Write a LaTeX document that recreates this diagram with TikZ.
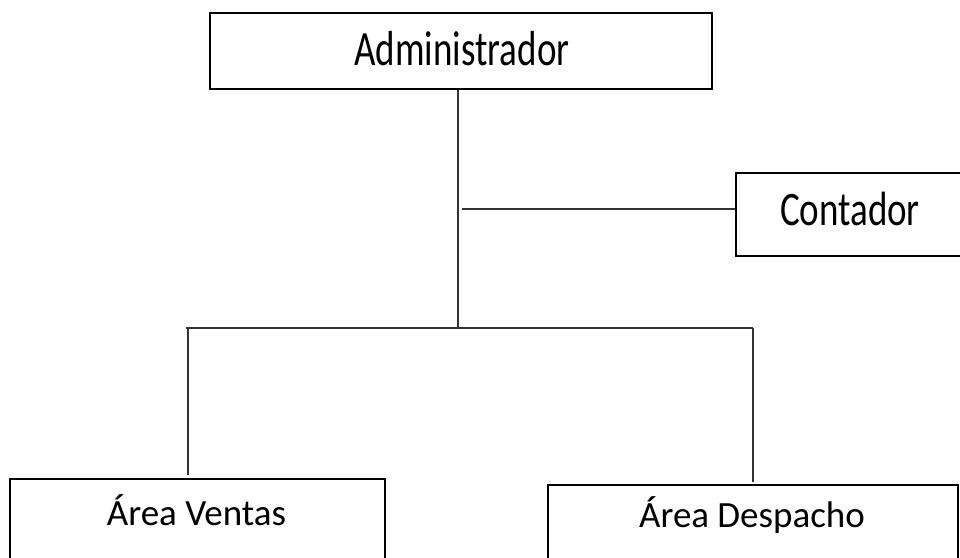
\documentclass[tikz,border=0pt]{standalone}
\usepackage{fontspec}
\setmainfont{Carlito}
\begin{document}
\begin{tikzpicture}[x=1pt,y=-1pt,
  orgbox/.style={draw=black, line width=2.4pt, rectangle, inner sep=0pt},
  lbl/.style={inner sep=0pt, anchor=base, font=\fontsize{37}{40}\selectfont},
  conn/.style={draw=black!80, line width=1.3pt}]
\useasboundingbox (0,0) rectangle (960,557);
\clip (0,0) rectangle (960,557);
% boxes
\node[orgbox, minimum width=502pt, minimum height=76pt, anchor=north west] (admin) at (209,12) {};
\node[orgbox, minimum width=232pt, minimum height=83pt, anchor=north west] (cont) at (735,172) {};
\node[orgbox, minimum width=375pt, minimum height=110pt, anchor=north west] (ventas) at (9,478) {};
\node[orgbox, minimum width=410pt, minimum height=110pt, anchor=north west] (desp) at (547,484) {};
% labels
\node[lbl] (adminT) at (462,65) {\scalebox{1}[1.33]{Administrador}};
\node[lbl] (contT) at (850,225) {\scalebox{1}[1.3]{Contador}};
\node[lbl] (ventasT) at (196.5,525) {Área Ventas};
\node[lbl] (despT) at (752,527) {Área Despacho};
% junction coordinates
\coordinate (j1) at (458,328);
\coordinate (j2) at (462,209);
\coordinate (jl) at (186,328);
\coordinate (jr) at (753,328);
\coordinate (vtop) at (188,328);
\coordinate (vend) at (188,475);
\coordinate (dend) at (753,482);
% connectors
\draw[conn] (admin.south -| j1) -- (j1);
\draw[conn] (j2) -- (cont.west |- j2);
\draw[conn] (jl) -- (jr);
\draw[conn] (vtop) -- (vend);
\draw[conn] (jr) -- (dend);
\end{tikzpicture}
\end{document}
